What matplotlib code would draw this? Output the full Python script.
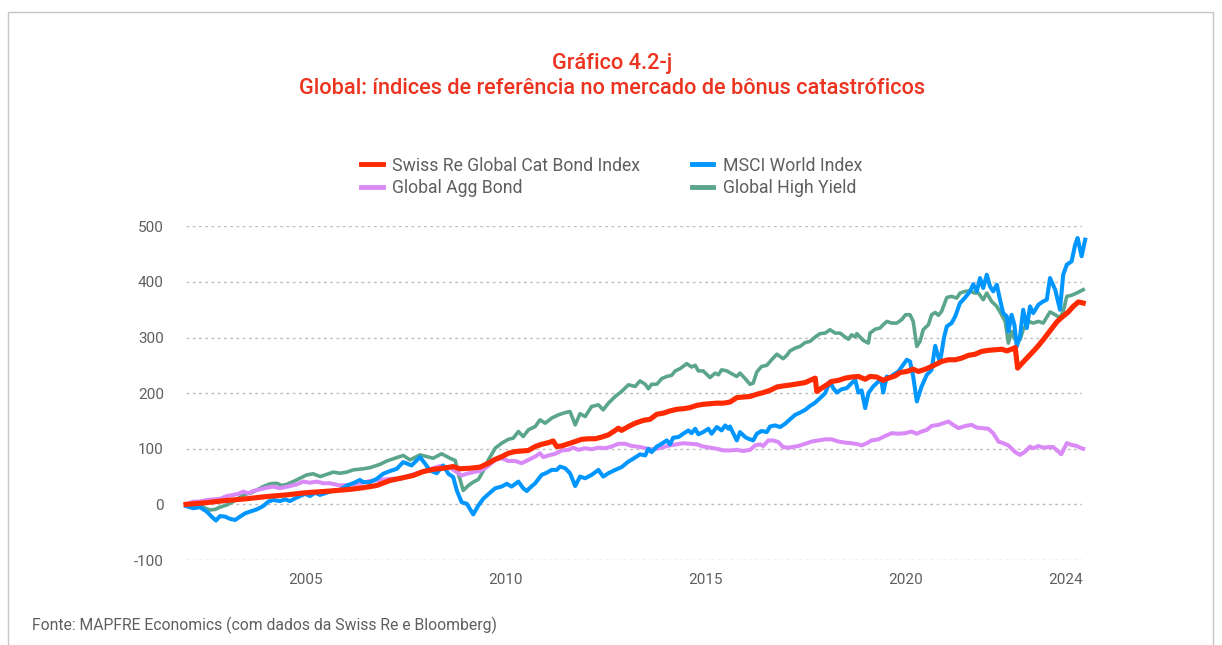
import matplotlib
matplotlib.use("Agg")
import matplotlib.pyplot as plt
from matplotlib.patches import Rectangle

plt.rcParams['font.family'] = ['Roboto', 'DejaVu Sans']
plt.rcParams['axes.unicode_minus'] = False

# ---------------- data ----------------
red_years = [2002.0, 2002.5, 2003.0, 2003.5, 2004.0, 2004.5, 2005.0, 2005.6, 2006.1, 2006.43,
             2006.77, 2007.1, 2007.43, 2007.68, 2007.93, 2008.18, 2008.43, 2008.68, 2008.85, 2009.1,
             2009.35, 2009.56, 2009.73, 2009.9, 2010.06, 2010.23, 2010.4, 2010.56, 2010.73, 2010.89,
             2011.06, 2011.18, 2011.27, 2011.39, 2011.56, 2011.73, 2011.89, 2012.06, 2012.23, 2012.39,
             2012.56, 2012.73, 2012.81, 2012.89, 2013.06, 2013.23, 2013.43, 2013.6, 2013.77, 2013.93,
             2014.1, 2014.27, 2014.43, 2014.6, 2014.77, 2014.93, 2015.1, 2015.27, 2015.43, 2015.6,
             2015.77, 2015.93, 2016.1, 2016.27, 2016.43, 2016.6, 2016.77, 2016.93, 2017.14, 2017.31,
             2017.48, 2017.6, 2017.73, 2017.77, 2017.89, 2018.02, 2018.14, 2018.31, 2018.48, 2018.64,
             2018.81, 2018.98, 2019.1, 2019.27, 2019.43, 2019.56, 2019.73, 2019.85, 2020.02, 2020.18,
             2020.31, 2020.48, 2020.64, 2020.81, 2020.89, 2021.06, 2021.23, 2021.39, 2021.56, 2021.73,
             2021.89, 2022.06, 2022.23, 2022.39, 2022.52, 2022.64, 2022.73, 2022.79, 2022.93, 2023.1,
             2023.27, 2023.43, 2023.6, 2023.77, 2023.89, 2024.06, 2024.18, 2024.31, 2024.43]
red_vals = [0, 3, 7, 10, 14, 17, 21, 24, 27, 30,
            34, 43, 48, 52, 59, 63, 65, 68, 64, 65,
            67, 74, 81, 86, 92, 95, 96, 97, 104, 108,
            111, 114, 104, 105, 109, 113, 117, 118, 118, 121,
            125, 133, 137, 133, 140, 146, 151, 153, 162, 164,
            168, 171, 172, 174, 178, 180, 181, 182, 182, 184,
            192, 193, 194, 198, 201, 205, 211, 213, 215, 217,
            219, 223, 227, 203, 209, 215, 221, 223, 227, 229,
            230, 225, 230, 229, 223, 227, 231, 237, 239, 243,
            239, 243, 248, 254, 257, 260, 260, 263, 268, 270,
            275, 277, 278, 279, 276, 279, 282, 245, 256, 269,
            282, 296, 312, 328, 336, 346, 356, 364, 362]

blue_years = [2002.0, 2002.18, 2002.35, 2002.52, 2002.64, 2002.75, 2002.85, 2002.98, 2003.1, 2003.23,
              2003.35, 2003.48, 2003.6, 2003.77, 2003.93, 2004.06, 2004.18, 2004.35, 2004.48, 2004.6,
              2004.73, 2004.85, 2004.98, 2005.1, 2005.23, 2005.35, 2005.52, 2005.68, 2005.85, 2006.02,
              2006.18, 2006.35, 2006.43, 2006.6, 2006.77, 2006.93, 2007.1, 2007.27, 2007.43, 2007.64,
              2007.85, 2007.98, 2008.1, 2008.27, 2008.43, 2008.56, 2008.68, 2008.77, 2008.89, 2009.02,
              2009.18, 2009.31, 2009.43, 2009.6, 2009.73, 2009.89, 2010.02, 2010.14, 2010.31, 2010.43,
              2010.52, 2010.6, 2010.73, 2010.89, 2011.02, 2011.14, 2011.27, 2011.35, 2011.48, 2011.6,
              2011.73, 2011.85, 2011.98, 2012.14, 2012.31, 2012.43, 2012.56, 2012.73, 2012.89, 2013.06,
              2013.18, 2013.35, 2013.48, 2013.56, 2013.64, 2013.77, 2013.89, 2014.02, 2014.1, 2014.18,
              2014.31, 2014.43, 2014.56, 2014.64, 2014.73, 2014.81, 2014.93, 2015.06, 2015.14, 2015.27,
              2015.39, 2015.48, 2015.56, 2015.6, 2015.68, 2015.77, 2015.85, 2015.98, 2016.06, 2016.18,
              2016.27, 2016.39, 2016.52, 2016.6, 2016.73, 2016.85, 2016.98, 2017.1, 2017.23, 2017.35,
              2017.48, 2017.6, 2017.73, 2017.85, 2017.98, 2018.1, 2018.18, 2018.27, 2018.39, 2018.52,
              2018.64, 2018.73, 2018.81, 2018.89, 2018.98, 2019.06, 2019.18, 2019.31, 2019.39, 2019.43,
              2019.52, 2019.6, 2019.68, 2019.81, 2019.93, 2020.02, 2020.1, 2020.18, 2020.27, 2020.39,
              2020.52, 2020.64, 2020.73, 2020.85, 2020.95, 2021.02, 2021.14, 2021.23, 2021.35, 2021.48,
              2021.6, 2021.68, 2021.77, 2021.85, 2021.93, 2022.02, 2022.1, 2022.18, 2022.27, 2022.35,
              2022.43, 2022.52, 2022.56, 2022.64, 2022.71, 2022.77, 2022.85, 2022.93, 2023.02, 2023.1,
              2023.18, 2023.31, 2023.43, 2023.52, 2023.6, 2023.73, 2023.85, 2023.93, 2024.02, 2024.14,
              2024.23, 2024.29, 2024.39, 2024.48]
blue_vals = [-3, -7, -5, -13, -22, -29, -21, -22, -26, -28,
             -22, -16, -13, -9, -3, 5, 8, 6, 9, 6,
             11, 15, 19, 15, 21, 17, 21, 25, 26, 34,
             38, 44, 40, 40, 46, 55, 60, 64, 76, 70,
             85, 73, 61, 56, 70, 55, 49, 25, 4, 1,
             -18, -2, 10, 21, 29, 32, 37, 32, 41, 29,
             24, 30, 38, 53, 57, 62, 62, 68, 65, 56,
             33, 50, 47, 53, 62, 50, 56, 62, 67, 77,
             82, 90, 88, 100, 94, 104, 109, 115, 108, 120,
             121, 127, 133, 128, 136, 126, 130, 136, 127, 139,
             133, 142, 136, 140, 128, 115, 130, 121, 118, 115,
             127, 132, 130, 140, 142, 139, 145, 153, 161, 165,
             170, 177, 183, 191, 200, 221, 209, 201, 207, 209,
             218, 224, 201, 205, 173, 200, 212, 221, 221, 201,
             230, 228, 233, 239, 251, 260, 257, 230, 185, 212,
             233, 242, 285, 255, 300, 320, 326, 338, 362, 372,
             383, 396, 383, 407, 389, 413, 392, 383, 395, 368,
             344, 338, 311, 341, 323, 284, 302, 350, 317, 356,
             344, 359, 365, 368, 407, 386, 350, 413, 431, 437,
             467, 479, 446, 476]

green_years = [2002.0, 2002.18, 2002.35, 2002.48, 2002.6, 2002.73, 2002.85, 2003.02, 2003.18, 2003.35,
               2003.52, 2003.64, 2003.77, 2003.93, 2004.1, 2004.27, 2004.39, 2004.52, 2004.68, 2004.85,
               2005.02, 2005.18, 2005.35, 2005.52, 2005.68, 2005.85, 2006.02, 2006.18, 2006.43, 2006.6,
               2006.85, 2007.02, 2007.27, 2007.43, 2007.6, 2007.85, 2008.02, 2008.18, 2008.39, 2008.6,
               2008.73, 2008.81, 2008.93, 2009.06, 2009.18, 2009.31, 2009.43, 2009.56, 2009.73, 2009.89,
               2010.06, 2010.18, 2010.31, 2010.43, 2010.56, 2010.73, 2010.85, 2010.98, 2011.14, 2011.31,
               2011.48, 2011.6, 2011.73, 2011.85, 2011.98, 2012.14, 2012.31, 2012.43, 2012.56, 2012.73,
               2012.89, 2013.06, 2013.23, 2013.35, 2013.48, 2013.56, 2013.64, 2013.77, 2013.89, 2014.02,
               2014.14, 2014.23, 2014.35, 2014.52, 2014.64, 2014.73, 2014.81, 2014.93, 2015.1, 2015.23,
               2015.31, 2015.39, 2015.52, 2015.64, 2015.77, 2015.85, 2015.98, 2016.1, 2016.18, 2016.27,
               2016.39, 2016.52, 2016.64, 2016.77, 2016.93, 2017.02, 2017.1, 2017.23, 2017.35, 2017.48,
               2017.6, 2017.73, 2017.85, 2017.98, 2018.1, 2018.23, 2018.35, 2018.48, 2018.56, 2018.64,
               2018.73, 2018.77, 2018.85, 2018.93, 2019.06, 2019.1, 2019.23, 2019.35, 2019.43, 2019.52,
               2019.64, 2019.77, 2019.89, 2019.99, 2020.1, 2020.18, 2020.27, 2020.35, 2020.43, 2020.56,
               2020.64, 2020.73, 2020.81, 2020.89, 2021.02, 2021.14, 2021.27, 2021.35, 2021.48, 2021.6,
               2021.71, 2021.81, 2021.93, 2022.02, 2022.14, 2022.27, 2022.39, 2022.48, 2022.56, 2022.64,
               2022.73, 2022.85, 2022.93, 2023.06, 2023.18, 2023.31, 2023.43, 2023.6, 2023.73, 2023.85,
               2023.93, 2024.02, 2024.14, 2024.27, 2024.35, 2024.43]
green_vals = [0, 0, -1, -7, -10, -9, -5, -1, 5, 13,
              19, 21, 26, 32, 37, 38, 34, 36, 41, 47,
              53, 55, 50, 54, 58, 56, 58, 62, 64, 66,
              72, 78, 84, 88, 80, 89, 86, 83, 91, 83,
              79, 55, 25, 34, 40, 45, 60, 80, 101, 110,
              117, 119, 131, 122, 134, 140, 152, 146, 155, 161,
              165, 167, 143, 163, 158, 176, 179, 170, 182, 194,
              203, 215, 212, 222, 216, 208, 216, 216, 226, 230,
              232, 240, 244, 253, 247, 250, 240, 240, 228, 236,
              233, 242, 240, 235, 230, 236, 226, 216, 218, 238,
              248, 250, 260, 270, 262, 268, 276, 281, 284, 291,
              293, 301, 307, 308, 314, 308, 308, 301, 297, 305,
              301, 307, 301, 295, 290, 308, 315, 317, 323, 329,
              326, 326, 332, 341, 341, 329, 284, 293, 314, 323,
              341, 345, 340, 347, 372, 374, 371, 380, 383, 384,
              380, 380, 368, 380, 365, 356, 341, 329, 290, 311,
              296, 296, 314, 329, 326, 329, 326, 346, 341, 335,
              347, 374, 376, 380, 383, 386]

purple_years = [2002.0, 2002.18, 2002.35, 2002.52, 2002.68, 2002.85, 2003.02, 2003.18, 2003.31, 2003.43,
                2003.56, 2003.68, 2003.85, 2004.02, 2004.18, 2004.35, 2004.48, 2004.6, 2004.77, 2004.93,
                2005.1, 2005.27, 2005.43, 2005.6, 2005.85, 2006.1, 2006.35, 2006.6, 2006.85, 2007.1,
                2007.35, 2007.6, 2007.85, 2008.1, 2008.35, 2008.6, 2008.77, 2008.89, 2009.02, 2009.18,
                2009.35, 2009.52, 2009.73, 2009.89, 2010.06, 2010.23, 2010.39, 2010.56, 2010.73, 2010.85,
                2010.93, 2011.06, 2011.23, 2011.39, 2011.56, 2011.68, 2011.81, 2011.98, 2012.14, 2012.31,
                2012.48, 2012.64, 2012.81, 2012.98, 2013.14, 2013.27, 2013.43, 2013.6, 2013.77, 2013.93,
                2014.1, 2014.27, 2014.43, 2014.6, 2014.77, 2014.93, 2015.1, 2015.27, 2015.43, 2015.6,
                2015.77, 2015.93, 2016.1, 2016.23, 2016.35, 2016.43, 2016.56, 2016.68, 2016.81, 2016.93,
                2017.06, 2017.31, 2017.48, 2017.64, 2017.81, 2017.98, 2018.14, 2018.31, 2018.48, 2018.64,
                2018.81, 2018.89, 2019.02, 2019.14, 2019.31, 2019.48, 2019.64, 2019.81, 2019.98, 2020.14,
                2020.27, 2020.39, 2020.52, 2020.64, 2020.81, 2020.98, 2021.06, 2021.18, 2021.31, 2021.48,
                2021.64, 2021.77, 2021.93, 2022.06, 2022.18, 2022.31, 2022.43, 2022.56, 2022.73, 2022.85,
                2022.98, 2023.1, 2023.18, 2023.31, 2023.43, 2023.56, 2023.68, 2023.81, 2023.88, 2024.02,
                2024.14, 2024.27, 2024.35, 2024.43]
purple_vals = [0, 5, 5, 8, 9, 10, 15, 17, 19, 23,
               20, 24, 27, 30, 32, 29, 31, 33, 36, 41,
               39, 41, 38, 38, 34, 35, 38, 42, 44, 46,
               46, 52, 58, 63, 69, 66, 58, 52, 55, 58,
               60, 67, 80, 83, 78, 78, 74, 80, 86, 92,
               85, 88, 91, 97, 98, 102, 98, 101, 99, 102,
               101, 104, 109, 109, 105, 104, 102, 99, 100, 103,
               106, 108, 110, 109, 108, 104, 102, 100, 97, 97,
               98, 96, 98, 106, 108, 105, 115, 115, 112, 103,
               102, 105, 109, 113, 115, 117, 117, 113, 111, 110,
               108, 106, 110, 115, 117, 123, 128, 127, 128, 131,
               127, 131, 134, 141, 143, 147, 149, 143, 137, 141,
               143, 138, 137, 136, 128, 113, 110, 106, 94, 89,
               95, 104, 101, 105, 102, 103, 103, 95, 90, 110,
               107, 105, 102, 100]

series_names = ['Swiss Re Global Cat Bond Index', 'MSCI World Index',
                'Global Agg Bond', 'Global High Yield']
series_colors = ['#FF2A00', '#0096FF', '#D98AF7', '#5BA68A']

xtick_pos = [2005, 2010, 2015, 2020, 2024]
xtick_labels = ['2005', '2010', '2015', '2020', '2024']
ytick_vals = [-100, 0, 100, 200, 300, 400, 500]

title_line1 = 'Gráfico 4.2-j'
title_line2 = 'Global: índices de referência no mercado de bônus catastróficos'
source_text = 'Fonte: MAPFRE Economics (com dados da Swiss Re e Bloomberg)'

# ---------------- figure ----------------
W, H = 1222, 645
fig = plt.figure(figsize=(W / 100, H / 100), dpi=100)
fig.patch.set_facecolor('white')

# outer frame
fig.add_artist(Rectangle((8 / W, -0.2), (1213 - 8) / W, 1.2 - 12 / H,
                         transform=fig.transFigure, fill=False,
                         edgecolor='#C6C6C6', linewidth=1.0))

ax = fig.add_axes([186 / W, 1 - 560 / H, (1082 - 186) / W, (560 - 226.3) / H])
ax.set_xlim(2002.0, 2024.4)
ax.set_ylim(-100, 500)

text_gray = '#5F5F5F'
ax.set_yticks(ytick_vals)
ax.set_yticklabels([str(v) for v in ytick_vals])
ax.set_xticks(xtick_pos)
ax.set_xticklabels(xtick_labels)
ax.tick_params(axis='both', length=0, labelsize=11, colors=text_gray)
ax.tick_params(axis='y', pad=16)
ax.tick_params(axis='x', pad=9)
for s in ax.spines.values():
    s.set_visible(False)
ax.grid(axis='y', color='#BDBDBD', linestyle=(0, (2, 2.5)), linewidth=1.0)
ax.set_axisbelow(True)

h_green, = ax.plot(green_years, green_vals, color=series_colors[3], lw=2.6,
                   solid_joinstyle='round', clip_on=False, zorder=3)
h_purple, = ax.plot(purple_years, purple_vals, color=series_colors[2], lw=2.9,
                    solid_joinstyle='round', clip_on=False, zorder=3.2)
h_blue, = ax.plot(blue_years, blue_vals, color=series_colors[1], lw=2.9,
                  solid_joinstyle='round', clip_on=False, zorder=3.4)
h_red, = ax.plot(red_years, red_vals, color=series_colors[0], lw=3.7,
                 solid_joinstyle='round', clip_on=False, zorder=3.6)

leg = fig.legend([h_red, h_purple, h_blue, h_green],
                 [series_names[0], series_names[2], series_names[1], series_names[3]],
                 ncol=2, loc='center', bbox_to_anchor=(612 / W, 1 - 177 / H),
                 frameon=False, fontsize=12.7, handlelength=1.2, handletextpad=0.55,
                 columnspacing=2.95, labelspacing=0.28)
for t in leg.get_texts():
    t.set_color(text_gray)
for lh in leg.get_lines():
    lh.set_linewidth(3.5)

title_color = '#EB3320'
fig.text(612 / W, 1 - 63 / H, title_line1, ha='center', va='center',
         fontsize=15.7, color=title_color, fontweight='medium')
fig.text(612 / W, 1 - 89 / H, title_line2, ha='center', va='center',
         fontsize=15.7, color=title_color, fontweight='medium')
fig.text(32 / W, 1 - 625 / H, source_text, ha='left', va='center',
         fontsize=11.3, color=text_gray)

fig.savefig('out.png', dpi=100, facecolor='white')
